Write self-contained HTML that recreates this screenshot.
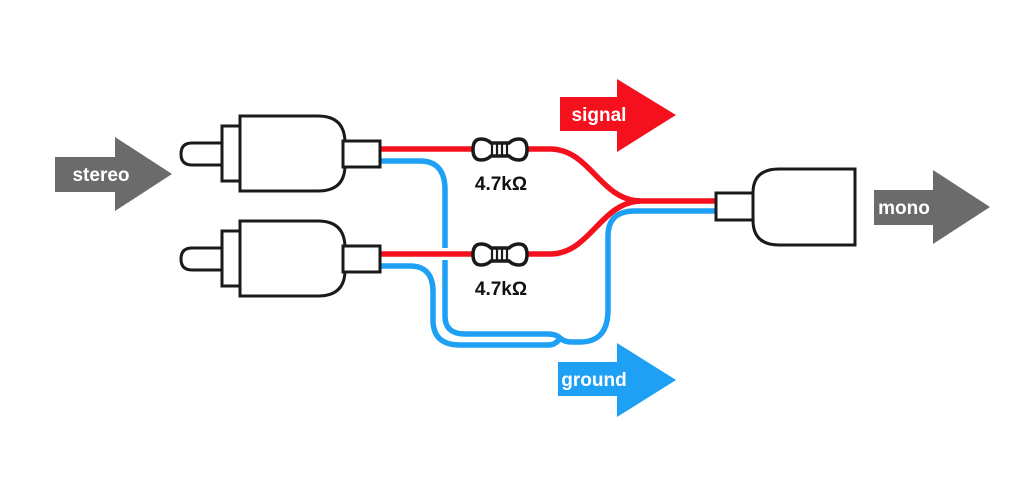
<!DOCTYPE html>
<html><head><meta charset="utf-8"><style>
html,body{margin:0;padding:0;background:#fff;}
svg{display:block;}
text{font-family:"Liberation Sans","DejaVu Sans",sans-serif;font-weight:bold;}
</style></head><body>
<svg width="1036" height="485" viewBox="0 0 1036 485" xmlns="http://www.w3.org/2000/svg">
<rect width="1036" height="485" fill="#fff"/>
<g fill="#6b6b6b">
<path d="M55 157 H115 V137 L172 174 L115 211 V192 H55 Z"/>
<path d="M874 190 H933 V170 L990 207 L933 244 V225 H874 Z"/>
</g>
<path d="M560 97 H617 V79 L676 115 L617 152 V131 H560 Z" fill="#f5101e"/>
<path d="M558 362 H617 V343 L676 380 L617 417 V396 H558 Z" fill="#1ea0f5"/>
<text x="101" y="181" font-size="19" fill="#fff" text-anchor="middle">stereo</text>
<text x="904" y="214" font-size="19" fill="#fff" text-anchor="middle">mono</text>
<text x="599" y="121" font-size="19" fill="#fff" text-anchor="middle">signal</text>
<text x="594" y="386" font-size="19" fill="#fff" text-anchor="middle">ground</text>
<g fill="none" stroke="#1ea0f5" stroke-width="5.5">
<path d="M380 161 H420 Q445 161 445 190 V316 Q445 334 465 334 H548 Q556 334 560 338 Q564 342 572 342 H580 Q608 342 608 310 V236 Q608 211 635 211 H716"/>
<path d="M380 266 H410 Q433 266 433 292 V320 Q433 345 460 345 H548 Q556 345 560 338"/>
</g>
<g fill="none" stroke="#fff" stroke-width="10">
<path d="M445 248 V260"/>
</g>
<g fill="none" stroke="#f5101e" stroke-width="5.5">
<path d="M380 149 H475"/>
<path d="M380 254 H475"/>
<path d="M525 149 H550 C590 149 600 200 640 201 H716"/>
<path d="M525 254 H550 C590 254 600 203 640 201"/>
</g>
<g stroke="#1a1a1a" stroke-width="3.5" fill="#fff">
<path d="M481 139 Q473 139 473 149.5 Q473 160 481 160 Q487 160 491 156 H509 Q513 160 519 160 Q527 160 527 149.5 Q527 139 519 139 Q513 139 509 143 H491 Q487 139 481 139 Z"/>
<path d="M481 244 Q473 244 473 254.5 Q473 265 481 265 Q487 265 491 261 H509 Q513 265 519 265 Q527 265 527 254.5 Q527 244 519 244 Q513 244 509 248 H491 Q487 244 481 244 Z"/>
</g>
<g stroke="#1a1a1a" stroke-width="2.2">
<path d="M492 143 V156 M497 143 V156 M502 143 V156 M507 143 V156"/>
<path d="M492 248 V261 M497 248 V261 M502 248 V261 M507 248 V261"/>
</g>
<text x="501" y="190" font-size="19" fill="#111" text-anchor="middle">4.7kΩ</text>
<text x="501" y="295" font-size="19" fill="#111" text-anchor="middle">4.7kΩ</text>
<g stroke="#1a1a1a" stroke-width="3" fill="#fff">
<path d="M222 143 H192 Q181 143 181 154 Q181 165 192 165 H222 Z"/>
<rect x="222" y="126" width="18" height="55"/>
<path d="M240 116 H318 Q345 116 345 143 V165 Q345 191 318 191 H240 Z"/>
<rect x="343" y="141" width="37" height="26"/>
<path d="M222 248 H192 Q181 248 181 259 Q181 270 192 270 H222 Z"/>
<rect x="222" y="231" width="18" height="55"/>
<path d="M240 221 H318 Q345 221 345 248 V270 Q345 296 318 296 H240 Z"/>
<rect x="343" y="246" width="37" height="26"/>
<rect x="716" y="193" width="37" height="27"/>
<path d="M855 169 H779 Q753 169 753 193 V220 Q753 245 779 245 H855 Z"/>
</g>
</svg>
</body></html>
